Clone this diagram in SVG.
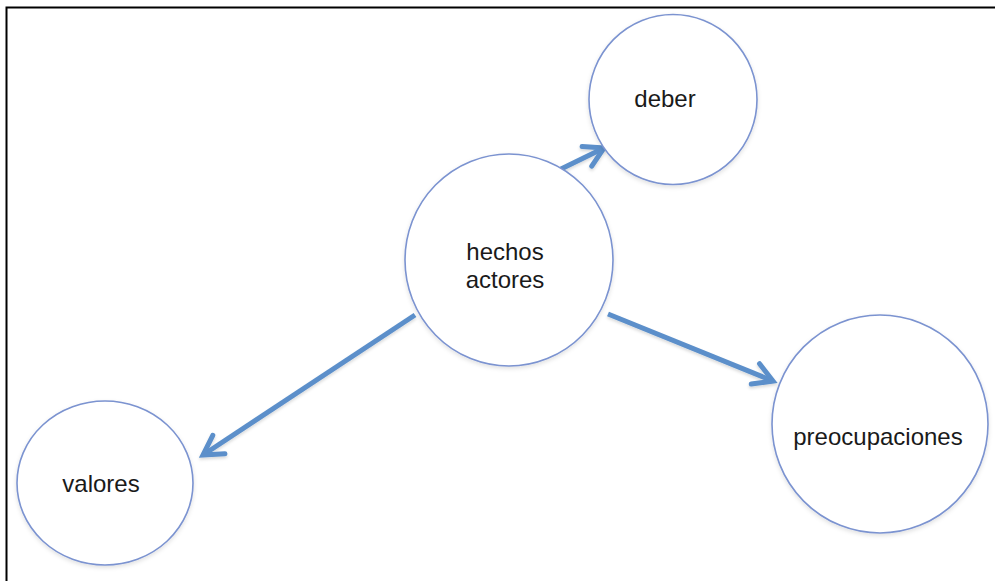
<svg xmlns="http://www.w3.org/2000/svg" width="995" height="581" viewBox="0 0 995 581">
<style>
.node{fill:#ffffff;stroke:#7b93d0;stroke-width:1.6;filter:url(#sh);}
.lbl{font-family:"Liberation Sans",Arial,sans-serif;font-size:24px;fill:#1a1a1a;text-anchor:middle;}
.conn{stroke:#5b8fca;stroke-width:5;fill:none;stroke-linecap:butt;marker-end:url(#arr);filter:url(#sh2);}
</style>
<defs>
<filter id="sh" x="-10%" y="-10%" width="120%" height="125%">
<feDropShadow dx="0" dy="2" stdDeviation="2" flood-color="#000" flood-opacity="0.12"/>
</filter>
<filter id="sh2" x="-10%" y="-20%" width="120%" height="140%">
<feDropShadow dx="0" dy="2" stdDeviation="1.5" flood-color="#000" flood-opacity="0.15"/>
</filter>
<marker id="arr" markerUnits="userSpaceOnUse" markerWidth="40" markerHeight="40" viewBox="-25 -20 30 40" refX="0" refY="0" orient="auto" overflow="visible">
<path d="M-19,-11 L0,0 L-19,11" fill="none" stroke="#5b8fca" stroke-width="5" stroke-linejoin="miter" stroke-linecap="round"/>
</marker>
</defs>
<rect x="0" y="0" width="995" height="581" fill="#ffffff"/>
<rect x="6.5" y="7.5" width="1000" height="600" fill="none" stroke="#000" stroke-width="2"/>
<g id="connectors">
<line class="conn" x1="561" y1="169" x2="604" y2="148"/>
<line class="conn" x1="415" y1="315" x2="203" y2="455"/>
<line class="conn" x1="608" y1="314" x2="773" y2="381"/>
</g>
<g id="hechos">
<ellipse class="node" cx="509" cy="260" rx="104" ry="106"/>
<text class="lbl" x="505" y="260">hechos</text>
<text class="lbl" x="505" y="288">actores</text>
</g>
<g id="deber">
<ellipse class="node" cx="673" cy="99.5" rx="84" ry="85"/>
<text class="lbl" x="665" y="107">deber</text>
</g>
<g id="valores">
<ellipse class="node" cx="105" cy="483" rx="88" ry="82"/>
<text class="lbl" x="101" y="492">valores</text>
</g>
<g id="preocupaciones">
<ellipse class="node" cx="880" cy="424" rx="108" ry="109"/>
<text class="lbl" x="878" y="445">preocupaciones</text>
</g>
</svg>
